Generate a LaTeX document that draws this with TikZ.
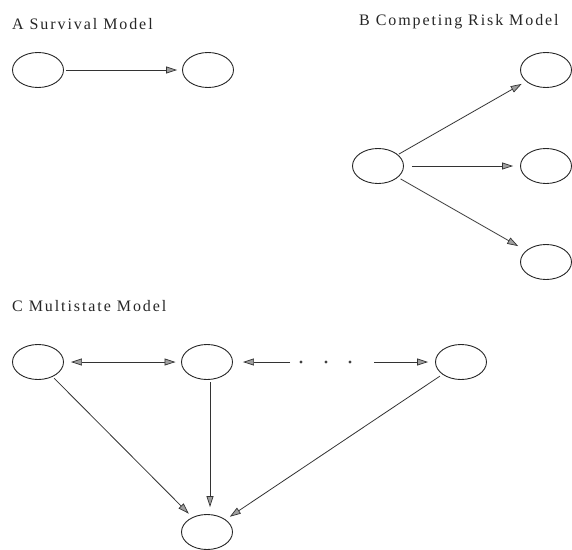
\documentclass[tikz,border=0pt]{standalone}
\usepackage{fontspec}
\setmainfont{Liberation Serif}
\newfontfamily\titlefont[LetterSpace=12]{Liberation Serif}
\usetikzlibrary{shapes.geometric,arrows.meta}
\begin{document}
\begin{tikzpicture}[x=1pt,y=-1pt,
  state/.style={ellipse,draw=black!85,line width=0.9pt,minimum width=51pt,minimum height=35pt,inner sep=0pt},
  tip/.tip={Triangle[length=11pt,width=7pt,fill=gray!75,line width=0.7pt]},
  conn/.style={draw=black!80,line width=0.8pt,-tip},
  biconn/.style={draw=black!80,line width=0.8pt,tip-tip},
  title/.style={anchor=base west,inner sep=0pt,font=\titlefont\fontsize{16}{18}\selectfont,text=black!85},
  dotmark/.style={circle,fill=black!75,inner sep=0pt,minimum size=3.4pt}]
\useasboundingbox (0,0) rectangle (572,549);
% titles
\node[title] (ta) at (12,29) {A Survival Model};
\node[title] (tb) at (359,25) {B Competing Risk Model};
\node[title] (tc) at (12,311) {C Multistate Model};
% A
\node[state] (a1) at (38,70) {};
\node[state] (a2) at (208,70) {};
\draw[conn,shorten <=2pt,shorten >=5pt] (a1) -- (a2);
% B
\node[state] (b0) at (378,166) {};
\node[state] (b1) at (546,70) {};
\node[state] (b2) at (546,166) {};
\node[state] (b3) at (546,262) {};
\draw[conn,shorten <=1pt,shorten >=5pt] (b0) -- (b1);
\draw[conn,shorten <=8pt,shorten >=7pt] (b0) -- (b2);
\draw[conn,shorten <=3pt,shorten >=9pt] (b0) -- (b3);
% C
\node[state] (c1) at (38,362) {};
\node[state] (c2) at (207,362) {};
\node[state] (c3) at (461,362) {};
\node[state] (c4) at (207,532) {};
\draw[biconn,shorten <=7pt,shorten >=5.5pt] (c1) -- (c2);
\coordinate (d1) at (290,362);
\coordinate (d2) at (374,362);
\draw[conn,shorten >=10pt] (d1) -- (c2);
\draw[conn,shorten >=7pt] (d2) -- (c3);
\node[dotmark] (p1) at (301,362) {};
\node[dotmark] (p2) at (326,362) {};
\node[dotmark] (p3) at (350,362) {};
\draw[conn,shorten <=2pt,shorten >=5pt] (c1) -- (c4);
\draw[conn,shorten <=2.5pt,shorten >=7pt] ([xshift=3pt]c2.south) -- ([xshift=3pt]c4.north);
\draw[conn,shorten <=3pt,shorten >=5pt] (c3) -- (c4);
\end{tikzpicture}
\end{document}
